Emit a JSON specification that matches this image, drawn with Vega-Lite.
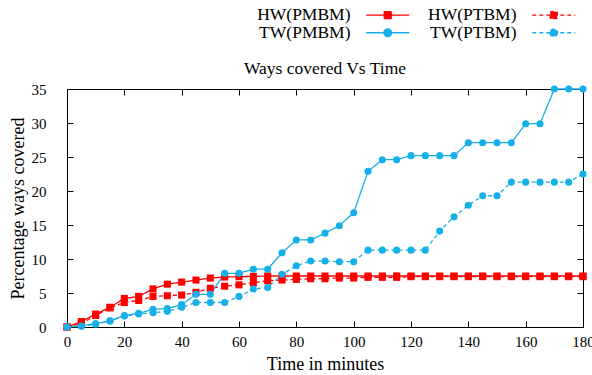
{
  "$schema": "https://vega.github.io/schema/vega-lite/v6.json",
  "width": 516,
  "height": 238,
  "autosize": {"type": "none"},
  "padding": {"left": 67, "top": 89, "right": 9, "bottom": 48},
  "background": "white",
  "config": {
    "font": "'Liberation Serif', serif",
    "view": {"stroke": "black", "strokeWidth": 1},
    "axis": {
      "labelFont": "'Liberation Serif', serif",
      "labelFontSize": 15,
      "labelColor": "black",
      "titleFont": "'Liberation Serif', serif",
      "titleFontSize": 18,
      "titleFontWeight": "normal",
      "titleColor": "black",
      "tickColor": "black",
      "tickWidth": 1,
      "tickSize": -6,
      "domain": false,
      "grid": false
    }
  },
  "title": {
    "text": "Ways covered Vs Time",
    "font": "'Liberation Serif', serif",
    "fontSize": 17.5,
    "fontWeight": "normal",
    "color": "black",
    "anchor": "middle",
    "offset": -71
  },
  "data": {
    "values": [
      {"t": 0, "HW(PMBM)": 0, "HW(PTBM)": 0, "TW(PMBM)": 0, "TW(PTBM)": 0},
      {"t": 5, "HW(PMBM)": 0.8, "HW(PTBM)": 0.5, "TW(PMBM)": 0.15, "TW(PTBM)": 0.1},
      {"t": 10, "HW(PMBM)": 1.9, "HW(PTBM)": 1.7, "TW(PMBM)": 0.5, "TW(PTBM)": 0.4},
      {"t": 15, "HW(PMBM)": 2.9, "HW(PTBM)": 2.8, "TW(PMBM)": 0.9, "TW(PTBM)": 0.9},
      {"t": 20, "HW(PMBM)": 4.2, "HW(PTBM)": 3.6, "TW(PMBM)": 1.7, "TW(PTBM)": 1.6},
      {"t": 25, "HW(PMBM)": 4.5, "HW(PTBM)": 3.9, "TW(PMBM)": 2.0, "TW(PTBM)": 1.9},
      {"t": 30, "HW(PMBM)": 5.6, "HW(PTBM)": 4.5, "TW(PMBM)": 2.6, "TW(PTBM)": 2.1},
      {"t": 35, "HW(PMBM)": 6.3, "HW(PTBM)": 4.6, "TW(PMBM)": 2.7, "TW(PTBM)": 2.3},
      {"t": 40, "HW(PMBM)": 6.6, "HW(PTBM)": 4.7, "TW(PMBM)": 3.3, "TW(PTBM)": 2.9},
      {"t": 45, "HW(PMBM)": 6.9, "HW(PTBM)": 5.1, "TW(PMBM)": 4.8, "TW(PTBM)": 3.6},
      {"t": 50, "HW(PMBM)": 7.2, "HW(PTBM)": 5.7, "TW(PMBM)": 4.8, "TW(PTBM)": 3.6},
      {"t": 55, "HW(PMBM)": 7.35, "HW(PTBM)": 6.0, "TW(PMBM)": 7.9, "TW(PTBM)": 3.6},
      {"t": 60, "HW(PMBM)": 7.4, "HW(PTBM)": 6.2, "TW(PMBM)": 7.9, "TW(PTBM)": 4.5},
      {"t": 65, "HW(PMBM)": 7.45, "HW(PTBM)": 6.5, "TW(PMBM)": 8.5, "TW(PTBM)": 5.6},
      {"t": 70, "HW(PMBM)": 7.5, "HW(PTBM)": 6.8, "TW(PMBM)": 8.5, "TW(PTBM)": 5.8},
      {"t": 75, "HW(PMBM)": 7.5, "HW(PTBM)": 6.9, "TW(PMBM)": 10.9, "TW(PTBM)": 7.75},
      {"t": 80, "HW(PMBM)": 7.5, "HW(PTBM)": 7.0, "TW(PMBM)": 12.8, "TW(PTBM)": 9.0},
      {"t": 85, "HW(PMBM)": 7.5, "HW(PTBM)": 7.1, "TW(PMBM)": 12.8, "TW(PTBM)": 9.7},
      {"t": 90, "HW(PMBM)": 7.5, "HW(PTBM)": 7.1, "TW(PMBM)": 13.8, "TW(PTBM)": 9.7},
      {"t": 95, "HW(PMBM)": 7.5, "HW(PTBM)": 7.2, "TW(PMBM)": 14.9, "TW(PTBM)": 9.6},
      {"t": 100, "HW(PMBM)": 7.5, "HW(PTBM)": 7.2, "TW(PMBM)": 16.8, "TW(PTBM)": 9.6},
      {"t": 105, "HW(PMBM)": 7.5, "HW(PTBM)": 7.3, "TW(PMBM)": 22.9, "TW(PTBM)": 11.3},
      {"t": 110, "HW(PMBM)": 7.5, "HW(PTBM)": 7.3, "TW(PMBM)": 24.6, "TW(PTBM)": 11.3},
      {"t": 115, "HW(PMBM)": 7.5, "HW(PTBM)": 7.3, "TW(PMBM)": 24.6, "TW(PTBM)": 11.3},
      {"t": 120, "HW(PMBM)": 7.5, "HW(PTBM)": 7.4, "TW(PMBM)": 25.2, "TW(PTBM)": 11.3},
      {"t": 125, "HW(PMBM)": 7.5, "HW(PTBM)": 7.4, "TW(PMBM)": 25.2, "TW(PTBM)": 11.3},
      {"t": 130, "HW(PMBM)": 7.5, "HW(PTBM)": 7.4, "TW(PMBM)": 25.2, "TW(PTBM)": 14.1},
      {"t": 135, "HW(PMBM)": 7.5, "HW(PTBM)": 7.4, "TW(PMBM)": 25.2, "TW(PTBM)": 16.2},
      {"t": 140, "HW(PMBM)": 7.5, "HW(PTBM)": 7.4, "TW(PMBM)": 27.1, "TW(PTBM)": 17.9},
      {"t": 145, "HW(PMBM)": 7.5, "HW(PTBM)": 7.4, "TW(PMBM)": 27.1, "TW(PTBM)": 19.3},
      {"t": 150, "HW(PMBM)": 7.5, "HW(PTBM)": 7.4, "TW(PMBM)": 27.1, "TW(PTBM)": 19.3},
      {"t": 155, "HW(PMBM)": 7.5, "HW(PTBM)": 7.4, "TW(PMBM)": 27.1, "TW(PTBM)": 21.3},
      {"t": 160, "HW(PMBM)": 7.5, "HW(PTBM)": 7.4, "TW(PMBM)": 29.9, "TW(PTBM)": 21.3},
      {"t": 165, "HW(PMBM)": 7.5, "HW(PTBM)": 7.4, "TW(PMBM)": 29.9, "TW(PTBM)": 21.3},
      {"t": 170, "HW(PMBM)": 7.5, "HW(PTBM)": 7.4, "TW(PMBM)": 35, "TW(PTBM)": 21.3},
      {"t": 175, "HW(PMBM)": 7.5, "HW(PTBM)": 7.4, "TW(PMBM)": 35, "TW(PTBM)": 21.3},
      {"t": 180, "HW(PMBM)": 7.5, "HW(PTBM)": 7.4, "TW(PMBM)": 35, "TW(PTBM)": 22.5}
    ]
  },
  "transform": [
    {"fold": ["HW(PMBM)", "HW(PTBM)", "TW(PMBM)", "TW(PTBM)"], "as": ["series", "v"]}
  ],
  "layer": [
    {
      "mark": {"type": "line", "strokeWidth": 1.3, "clip": false},
      "encoding": {
        "x": {
          "field": "t", "type": "quantitative",
          "scale": {"domain": [0, 180], "nice": false, "zero": false},
          "axis": {"values": [0, 20, 40, 60, 80, 100, 120, 140, 160, 180], "title": "Time in minutes", "labelPadding": 13, "titlePadding": 6, "labelFlush": false}
        },
        "y": {
          "field": "v", "type": "quantitative",
          "scale": {"domain": [0, 35], "nice": false},
          "axis": {"values": [0, 5, 10, 15, 20, 25, 30, 35], "title": "Percentage ways covered", "labelPadding": 27, "titlePadding": 4, "labelFlush": false}
        },
        "color": {
          "field": "series", "type": "nominal",
          "scale": {"domain": ["HW(PMBM)", "TW(PMBM)", "HW(PTBM)", "TW(PTBM)"], "range": ["#ff0000", "#16b0e8", "#ff0000", "#16b0e8"]},
          "legend": {
            "orient": "none",
            "legendX": 312,
            "legendY": -83,
            "columns": 2,
            "title": null,
            "symbolType": "M-3.07,0H3.07M-0.5,-0.5H0.5V0.5H-0.5Z",
            "symbolSize": 196,
            "symbolStrokeWidth": 1.3,
            "labelFont": "'Liberation Serif', serif",
            "labelFontSize": 17.5,
            "labelColor": "black",
            "labelAlign": "right",
            "labelOffset": -46,
            "columnPadding": 16,
            "rowPadding": -4,
            "encode": {
              "symbols": {
                "update": {
                  "shape": {"signal": "indexof(datum.value, 'TW') == 0 ? 'M-3.07,0H3.07M0.55,0A0.55,0.55 0 1,1 -0.55,0A0.55,0.55 0 1,1 0.55,0Z' : 'M-3.07,0H3.07M-0.5,-0.5H0.5V0.5H-0.5Z'"},
                  "strokeDash": {"signal": "indexof(datum.value, 'PTBM') >= 0 ? [4, 3] : [1, 0]"},
                  "fill": {"scale": "color", "field": "value"},
                  "stroke": {"scale": "color", "field": "value"},
                  "opacity": {"value": 1}
                }
              }
            }
          }
        },
        "strokeDash": {
          "field": "series", "type": "nominal",
          "scale": {"domain": ["HW(PMBM)", "TW(PMBM)", "HW(PTBM)", "TW(PTBM)"], "range": [[1, 0], [1, 0], [4, 3], [4, 3]]},
          "legend": null
        }
      }
    },
    {
      "transform": [{"filter": "indexof(datum.series, 'HW') == 0"}],
      "mark": {"type": "square", "filled": true, "size": 50, "opacity": 1, "clip": false},
      "encoding": {
        "x": {"field": "t", "type": "quantitative", "axis": null},
        "y": {"field": "v", "type": "quantitative", "axis": null},
        "color": {"field": "series", "type": "nominal", "legend": null}
      }
    },
    {
      "transform": [{"filter": "indexof(datum.series, 'TW') == 0"}],
      "mark": {"type": "circle", "size": 50, "opacity": 1, "clip": false},
      "encoding": {
        "x": {"field": "t", "type": "quantitative", "axis": null},
        "y": {"field": "v", "type": "quantitative", "axis": null},
        "color": {"field": "series", "type": "nominal", "legend": null}
      }
    },
    {
      "mark": {"type": "point", "opacity": 0},
      "encoding": {
        "x": {"field": "t", "type": "quantitative", "axis": {"orient": "top", "values": [0, 20, 40, 60, 80, 100, 120, 140, 160, 180], "labels": false, "title": null}},
        "y": {"field": "v", "type": "quantitative", "axis": {"orient": "right", "values": [0, 5, 10, 15, 20, 25, 30, 35], "labels": false, "title": null}}
      }
    }
  ],
  "resolve": {"axis": {"x": "independent", "y": "independent"}}
}
